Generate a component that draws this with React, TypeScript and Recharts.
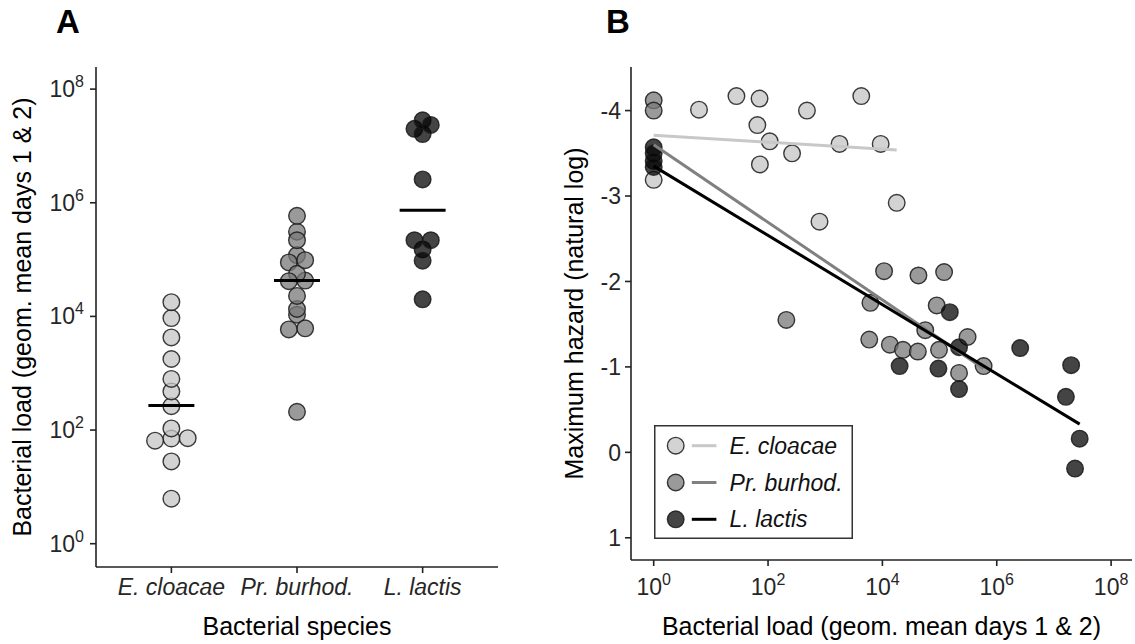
import React from 'react';
import { ScatterChart, Scatter, XAxis, YAxis, Legend, Label } from 'recharts';

const FONT = '"Liberation Sans", Arial, Helvetica, sans-serif';

const SPECIES = ['E. cloacae', 'Pr. burhod.', 'L. lactis'];
const POINT_FILL = ['#c4c4c4', '#787878', '#050505'];
const FIT_STROKE = ['#c8c8c8', '#808080', '#000000'];

// per fly: bacterial load (geom. mean days 1 & 2) and maximum hazard (natural log)
const ecLoad = [6.2, 28, 71, 65, 107, 72, 263, 479, 1780, 4270, 9330, 794, 17800];
const ecHazard = [-4.01, -4.17, -4.14, -3.83, -3.64, -3.37, -3.5, -4.0, -3.61, -4.17, -3.61, -2.7, -2.92];

const pbLoad = [209, 10700, 42700, 120000, 6170, 89100, 56200, 5890, 13500, 22900, 41700, 97700, 309000, 219000, 589000];
const pbHazard = [-1.55, -2.12, -2.07, -2.11, -1.75, -1.72, -1.43, -1.32, -1.26, -1.2, -1.18, -1.2, -1.35, -0.93, -1.01];

const llLoad = [151000, 219000, 20000, 95500, 219000, 2570000, 20000000, 16200000, 28200000, 23400000];
const llHazard = [-1.64, -1.23, -1.01, -0.98, -0.74, -1.22, -1.02, -0.65, -0.16, 0.19];

// flies with no bacteria recovered, shown at a load of 1 in panel B only
const ecZeroHazard = [-3.19];
const pbZeroHazard = [-4.12, -4.0];
const llZeroHazard = [-3.57, -3.5, -3.41, -3.34];

// median load per species (panel A bars)
const medianLoad = [270, 42700, 741000];

// linear fits of hazard on log load: [load, hazard] at each end
const ecFit = [[1, -3.71], [17800, -3.54]];
const pbFit = [[1, -3.6], [589000, -0.98]];
const llFit = [[1, -3.35], [28200000, -0.33]];

const POW_TICKS = [1, 1e2, 1e4, 1e6, 1e8];
const HAZARD_TICKS = [-4, -3, -2, -1, 0, 1];

const R = 8.3;
const OPACITY = 0.75;
const AXIS = '#222';
const TICK_TEXT = '#262626';

const loads = [ecLoad, pbLoad, llLoad];
const hazards = [ecHazard, pbHazard, llHazard];
const zeroHazards = [ecZeroHazard, pbZeroHazard, llZeroHazard];
const fits = [ecFit, pbFit, llFit];

// spread near-identical loads side by side within a species column
function dodge(values: number[], slot: number) {
  const order = values.map((v, i) => ({ v: Math.log10(v), i })).sort((a, b) => a.v - b.v);
  const out = new Array(values.length).fill(0);
  let group: { v: number; i: number }[] = [];
  const flush = () => {
    group.forEach((p, k) => { out[p.i] = (k - (group.length - 1) / 2) * slot; });
    group = [];
  };
  for (const p of order) {
    if (group.length && p.v - group[group.length - 1].v > 0.075) flush();
    group.push(p);
  }
  flush();
  return out;
}

const columnData = loads.map((arr, k) => {
  const off = dodge(arr, 0.13);
  return arr.map((v, i) => ({ x: k + 1 + off[i], y: v }));
});
const medianData = medianLoad.map((m, k) => [{ x: k + 0.817, y: m }, { x: k + 1.183, y: m }]);

const hazardData = loads.map((arr, k) => [
  ...zeroHazards[k].map((h) => ({ x: 1, y: h })),
  ...arr.map((v, i) => ({ x: v, y: hazards[k][i] })),
]);
const fitData = fits.map((f) => f.map(([x, y]) => ({ x, y })));

const dot = (k: number) => (p: any) => (
  <circle cx={p.cx} cy={p.cy} r={R} fill={POINT_FILL[k]} fillOpacity={OPACITY}
    stroke="#1a1a1a" strokeOpacity={0.85} strokeWidth={1.4} />
);
const noDot = () => <g />;

function PowerTick(props: any) {
  const { x, y, payload, anchor, shift } = props;
  const exp = Math.round(Math.log10(payload.value));
  return (
    <text x={x} y={y} dy={shift} textAnchor={anchor} fill={TICK_TEXT} fontSize={23} fontFamily={FONT}>
      <tspan>10</tspan>
      <tspan dy={-10} fontSize={16}>{exp}</tspan>
    </text>
  );
}

function SpeciesTick(props: any) {
  const { x, y, payload } = props;
  return (
    <text x={x} y={y} dy={18} textAnchor="middle" fill={TICK_TEXT} fontSize={23} fontStyle="italic" fontFamily={FONT}>
      {SPECIES[payload.value - 1]}
    </text>
  );
}

function BottomTitle({ text }: { text: string }) {
  return (props: any) => {
    const vb = props.viewBox;
    return (
      <text x={vb.x + vb.width / 2} y={vb.y + vb.height - 9} textAnchor="middle" fill="#000" fontSize={25} fontFamily={FONT}>
        {text}
      </text>
    );
  };
}

function SideTitle(text: string, cx: number) {
  return (props: any) => {
    const vb = props.viewBox;
    const cy = vb.y + vb.height / 2;
    return (
      <text x={cx} y={cy} dy={8} transform={`rotate(-90 ${cx} ${cy})`} textAnchor="middle" fill="#000" fontSize={25} fontFamily={FONT}>
        {text}
      </text>
    );
  };
}

function SpeciesKey() {
  return (
    <svg width={199} height={114} style={{ display: 'block' }}>
      <rect x={0.75} y={0.75} width={197.5} height={112.5} fill="#fff" stroke="#333" strokeWidth={1.5} />
      {SPECIES.map((name, k) => {
        const cy = 20.7 + k * 36.8;
        return (
          <g key={name}>
            <circle cx={21.7} cy={cy} r={R} fill={POINT_FILL[k]} fillOpacity={OPACITY} stroke="#1a1a1a" strokeOpacity={0.85} strokeWidth={1.4} />
            <line x1={37.8} x2={62.4} y1={cy} y2={cy} stroke={FIT_STROKE[k]} strokeWidth={3} />
            <text x={75.6} y={cy} dy={8} fontSize={23} fontStyle="italic" fill="#111" fontFamily={FONT}>{name}</text>
          </g>
        );
      })}
    </svg>
  );
}

const panelLetter: React.CSSProperties = {
  position: 'absolute', top: 5, fontSize: 33, lineHeight: '33px', fontWeight: 700, fontFamily: FONT, color: '#000',
};

export default function App() {
  return (
    <div style={{ position: 'absolute', left: 0, top: 0, width: 1135, height: 644, background: '#fff', fontFamily: FONT }}>
      <div style={{ ...panelLetter, left: 56 }}>A</div>
      <div style={{ ...panelLetter, left: 606 }}>B</div>

      <div style={{ position: 'absolute', left: 0, top: 0 }}>
        <ScatterChart width={560} height={644} margin={{ top: 67, right: 62, bottom: 0, left: 0 }}>
          <XAxis dataKey="x" type="number" domain={[0.4, 3.6]} ticks={[1, 2, 3]} interval={0}
            height={77} tickSize={6} tickMargin={4} tick={(p: any) => <SpeciesTick {...p} />}
            axisLine={{ stroke: AXIS, strokeWidth: 1.6 }} tickLine={{ stroke: AXIS, strokeWidth: 1.6 }}>
            <Label content={BottomTitle({ text: 'Bacterial species' })} />
          </XAxis>
          <YAxis dataKey="y" type="number" scale="log" domain={[0.389, 2.45e8]} ticks={POW_TICKS} interval={0}
            allowDataOverflow width={96} tickSize={6} tickMargin={6}
            tick={(p: any) => <PowerTick {...p} anchor="end" shift={8} />}
            axisLine={{ stroke: AXIS, strokeWidth: 1.6 }} tickLine={{ stroke: AXIS, strokeWidth: 1.6 }}>
            <Label content={SideTitle('Bacterial load (geom. mean days 1 & 2)', 23)} />
          </YAxis>
          {columnData.map((d, k) => (
            <Scatter key={SPECIES[k]} data={d} shape={dot(k)} isAnimationActive={false} />
          ))}
          {medianData.map((d, k) => (
            <Scatter key={'m' + k} data={d} shape={noDot} line={{ stroke: '#000', strokeWidth: 3 }} isAnimationActive={false} />
          ))}
        </ScatterChart>
      </div>

      <div style={{ position: 'absolute', left: 560, top: 0 }}>
        <ScatterChart width={575} height={644} margin={{ top: 67, right: 3, bottom: 0, left: 0 }}>
          <XAxis dataKey="x" type="number" scale="log" domain={[0.401, 2.32e8]} ticks={POW_TICKS} interval={0}
            allowDataOverflow height={84} tickSize={6} tickMargin={4}
            tick={(p: any) => <PowerTick {...p} anchor="middle" shift={25} />}
            axisLine={{ stroke: AXIS, strokeWidth: 1.6 }} tickLine={{ stroke: AXIS, strokeWidth: 1.6 }}>
            <Label content={BottomTitle({ text: 'Bacterial load (geom. mean days 1 & 2)' })} />
          </XAxis>
          <YAxis dataKey="y" type="number" reversed domain={[-4.51, 1.26]} ticks={HAZARD_TICKS} interval={0}
            allowDataOverflow width={71} tickSize={6} tickMargin={4}
            tick={{ fill: TICK_TEXT, fontSize: 23, fontFamily: FONT }}
            axisLine={{ stroke: AXIS, strokeWidth: 1.6 }} tickLine={{ stroke: AXIS, strokeWidth: 1.6 }}>
            <Label content={SideTitle('Maximum hazard (natural log)', 15)} />
          </YAxis>
          {hazardData.map((d, k) => (
            <Scatter key={SPECIES[k]} data={d} shape={dot(k)} isAnimationActive={false} />
          ))}
          {fitData.map((d, k) => (
            <Scatter key={'f' + k} data={d} shape={noDot} line={{ stroke: FIT_STROKE[k], strokeWidth: 3 }} isAnimationActive={false} />
          ))}
          <Legend layout="vertical" align="center" verticalAlign="middle"
            wrapperStyle={{ left: 94, top: 425, width: 199, height: 114 }} content={() => <SpeciesKey />} />
        </ScatterChart>
      </div>
    </div>
  );
}
